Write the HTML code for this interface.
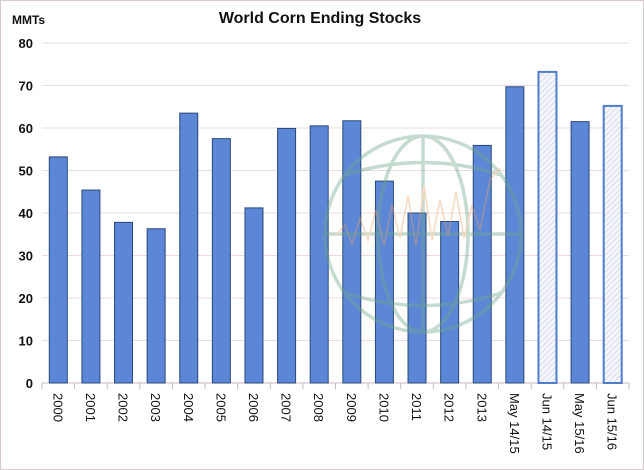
<!DOCTYPE html>
<html><head><meta charset="utf-8"><style>
body{margin:0;background:#fff}
svg{display:block;font-family:"Liberation Sans",Arial,sans-serif}
</style></head><body>
<svg id="chart" width="644" height="470">
<defs>
<pattern id="hatch" width="4" height="4" patternUnits="userSpaceOnUse" patternTransform="rotate(45)">
<rect width="4" height="4" fill="#f4f6fb"/><line x1="0" y1="0" x2="0" y2="4" stroke="#c5cde0" stroke-width="1.2"/>
</pattern>
</defs>
<rect x="0.5" y="0.5" width="643" height="469" fill="#fff" stroke="#d9c9d3"/>
<text x="320" y="23" text-anchor="middle" font-size="16" font-weight="bold" fill="#111">World Corn Ending Stocks</text>
<text x="12" y="24" font-size="12" font-weight="bold" fill="#111">MMTs</text>
<g id="grid"></g>
<g id="bars"></g>
<g id="globe" opacity="0.4" fill="none" stroke="#6fa88c" stroke-width="3.5">
<circle cx="423" cy="234" r="98"/>
<ellipse cx="423" cy="234" rx="45" ry="98"/>
<line x1="423" y1="136" x2="423" y2="332"/>
<line x1="325" y1="234" x2="521" y2="234"/>
<path d="M345 175 Q423 150 501 175 M345 293 Q423 318 501 293"/>
<polyline stroke="#f0a060" stroke-width="1.5" points="335,236 345,225 352,244 360,218 368,240 376,210 384,246 392,205 400,238 408,196 416,246 424,186 432,240 440,200 448,236 456,192 464,238 472,206 480,230 490,180 500,168"/>
</g>
<g id="axes"></g>
</svg>
<script>
const categories=["2000","2001","2002","2003","2004","2005","2006","2007","2008","2009","2010","2011","2012","2013","May 14/15","Jun 14/15","May 15/16","Jun 15/16"];
const values=[53.2,45.4,37.8,36.3,63.5,57.5,41.2,59.9,60.5,61.7,47.5,40,38,55.9,69.7,73.2,61.5,65.2];
const projected=[false,false,false,false,false,false,false,false,false,false,false,false,false,false,false,true,false,true];
const yTicks=[0,10,20,30,40,50,60,70,80];
const NS="http://www.w3.org/2000/svg";
const L=42,R=629,T=43,B=383,yMax=80;
const y=v=>B-(v/yMax)*(B-T);
const band=(R-L)/categories.length;
const x=i=>L+i*band;
function mk(tag,attrs,parent){const e=document.createElementNS(NS,tag);for(const k in attrs)e.setAttribute(k,attrs[k]);parent.appendChild(e);return e;}
const grid=document.getElementById('grid'),bars=document.getElementById('bars'),axes=document.getElementById('axes');
yTicks.forEach(t=>{
 const g=mk('line',{x1:L,x2:R,y1:y(t),y2:y(t),stroke:t===0?'#c8b8c4':'#efd9e2','stroke-width':1},grid);
 
 
 const tx=mk('text',{x:L-9,y:y(t)+5,'text-anchor':'end','font-size':13,'font-weight':'bold',fill:'#111'},axes);
 tx.textContent=t;
 
 
});
categories.forEach((c,i)=>{
 const bw=18,bx=x(i)+(band-bw)/2;
 const r=mk('rect',{x:bx,y:y(values[i]),width:bw,height:B-y(values[i]),fill:projected[i]?'url(#hatch)':'#5b87d6',stroke:projected[i]?'#4f7ccc':'#2a4878','stroke-width':projected[i]?2:1},bars);
 
 
 const tk=mk('line',{x1:x(i),x2:x(i),y1:B,y2:B+6,stroke:'#c8b8c4'},axes);
 
 
 const cx=x(i)+band/2;
 const t=mk('text',{x:0,y:0,'font-size':13,fill:'#111',transform:`translate(${cx-5},${B+10}) rotate(90)`},axes);
 t.textContent=c;
 
 
});
mk('line',{x1:R,x2:R,y1:B,y2:B+6,stroke:'#c8b8c4'},axes);
</script>
</body></html>
